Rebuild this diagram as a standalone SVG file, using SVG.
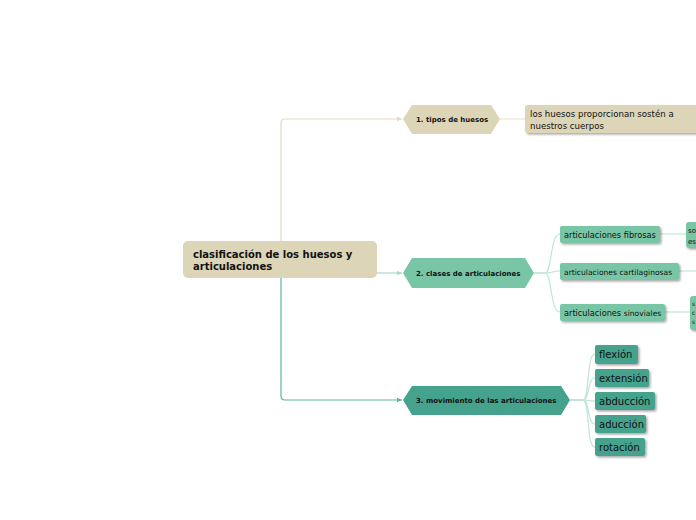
<svg xmlns="http://www.w3.org/2000/svg" width="696" height="520" viewBox="0 0 696 520">
<style>
text{font-family:"DejaVu Sans","Verdana",sans-serif;fill:#111}
.b{font-weight:bold}
.beige{fill:#ddd5b7}
.mint{fill:#79c6a6}
.teal{fill:#45a28c}
.c{fill:none;stroke-width:1.2}
.sub{font-size:8.6px}
.mv{font-size:10px}
</style>
<defs>
<filter id="sh" x="-10%" y="-20%" width="130%" height="160%">
<feDropShadow dx="1.5" dy="1.5" stdDeviation="0.8" flood-color="#000" flood-opacity="0.35"/>
</filter>
<marker id="aB" markerWidth="6" markerHeight="6" refX="5" refY="3" orient="auto" markerUnits="userSpaceOnUse"><path d="M0,0.8 L5,3 L0,5.2z" fill="#e3dabb"/></marker>
<marker id="aM" markerWidth="6" markerHeight="6" refX="5" refY="3" orient="auto" markerUnits="userSpaceOnUse"><path d="M0,0.8 L5,3 L0,5.2z" fill="#a8dcc8"/></marker>
<marker id="aT" markerWidth="6" markerHeight="6" refX="5" refY="3" orient="auto" markerUnits="userSpaceOnUse"><path d="M0,0.8 L5,3 L0,5.2z" fill="#5ab59c"/></marker>
</defs>
<rect width="696" height="520" fill="#fff"/>
<g id="connectors">
<path class="c" stroke="#e3dabb" d="M281,241 V123 Q281,119 285,119 H402" marker-end="url(#aB)"/>
<path class="c" stroke="#a8dcc8" d="M377,273 H402" marker-end="url(#aM)"/>
<path class="c" stroke="#5ab59c" d="M281,278 V396 Q281,400 285,400 H402" marker-end="url(#aT)"/>
<path class="c" stroke="#ece6d0" d="M500,119 H525"/>
<g stroke="#bfe6d6" class="c">
<path d="M534,273 H545 C552,273 550,234 560,234"/>
<path d="M534,273 H545 C552,273 552,271 560,271"/>
<path d="M534,273 H545 C552,273 550,312 560,312"/>
<path d="M660,234 H686"/>
<path d="M679,271 H696"/>
<path d="M665,312 H690"/>
<path d="M570,400 H583 C590,400 586,354 595,354"/>
<path d="M570,400 H583 C590,400 587,378 595,378"/>
<path d="M570,400 H583 C590,400 588,401 595,401"/>
<path d="M570,400 H583 C590,400 587,424 595,424"/>
<path d="M570,400 H583 C590,400 586,447 595,447"/>
</g>
</g>
<g id="root">
<rect x="183" y="241" width="194" height="37" rx="5" class="beige"/>
<text x="193" y="258" class="b" font-size="10">clasificación de los huesos y</text>
<text x="193" y="270" class="b" font-size="10">articulaciones</text>
</g>
<g id="n1">
<polygon points="403,119 412,105 491,105 500,119 491,134 412,134" class="beige"/>
<text x="416" y="122" class="b" font-size="7">1. tipos de huesos</text>
</g>
<g id="n1a">
<rect x="525" y="105" width="180" height="28" rx="3" class="beige" filter="url(#sh)"/>
<text x="530" y="117" class="sub">los huesos proporcionan sostén a</text>
<text x="530" y="129" class="sub">nuestros cuerpos</text>
</g>
<g id="n2">
<polygon points="403,273 412,258 525,258 534,273 525,288 412,288" class="mint"/>
<text x="416" y="276" class="b" font-size="7">2. clases de articulaciones</text>
</g>
<g id="n2a">
<rect x="560" y="226" width="100" height="17" rx="2" class="mint" filter="url(#sh)"/>
<text x="564" y="238" font-size="8.2">articulaciones fibrosas</text>
</g>
<g id="n2a1">
<rect x="686" y="222" width="20" height="26" rx="3" class="mint" filter="url(#sh)"/>
<text x="688" y="233" font-size="7">so</text>
<text x="688" y="244" font-size="7">es</text>
</g>
<g id="n2b">
<rect x="560" y="263" width="119" height="17" rx="2" class="mint" filter="url(#sh)"/>
<text x="564" y="275" font-size="7.6">articulaciones cartilaginosas</text>
</g>
<g id="n2c">
<rect x="560" y="304" width="105" height="17" rx="2" class="mint" filter="url(#sh)"/>
<text x="564" y="316" font-size="8.2">articulaciones <tspan font-size="7.6">sinoviales</tspan></text>
</g>
<g id="n2c1">
<rect x="690" y="296" width="16" height="34" rx="3" class="mint" filter="url(#sh)"/>
<text x="692" y="306" font-size="6">s</text>
<text x="692" y="315" font-size="6">c</text>
<text x="692" y="324" font-size="6">s</text>
</g>
<g id="n3">
<polygon points="403,400 412,386 561,386 570,400 561,415 412,415" class="teal"/>
<text x="416" y="403" class="b" font-size="7">3. movimiento de las articulaciones</text>
</g>
<g id="m1"><rect x="595" y="345" width="43" height="19" rx="2" class="teal" filter="url(#sh)"/><text x="599" y="358" class="mv">flexión</text></g>
<g id="m2"><rect x="595" y="369" width="54" height="18" rx="2" class="teal" filter="url(#sh)"/><text x="599" y="382" class="mv">extensión</text></g>
<g id="m3"><rect x="595" y="392" width="60" height="18" rx="2" class="teal" filter="url(#sh)"/><text x="599" y="405" class="mv">abducción</text></g>
<g id="m4"><rect x="595" y="415" width="51" height="18" rx="2" class="teal" filter="url(#sh)"/><text x="599" y="428" class="mv">aducción</text></g>
<g id="m5"><rect x="595" y="438" width="50" height="18" rx="2" class="teal" filter="url(#sh)"/><text x="599" y="451" class="mv">rotación</text></g>
</svg>
